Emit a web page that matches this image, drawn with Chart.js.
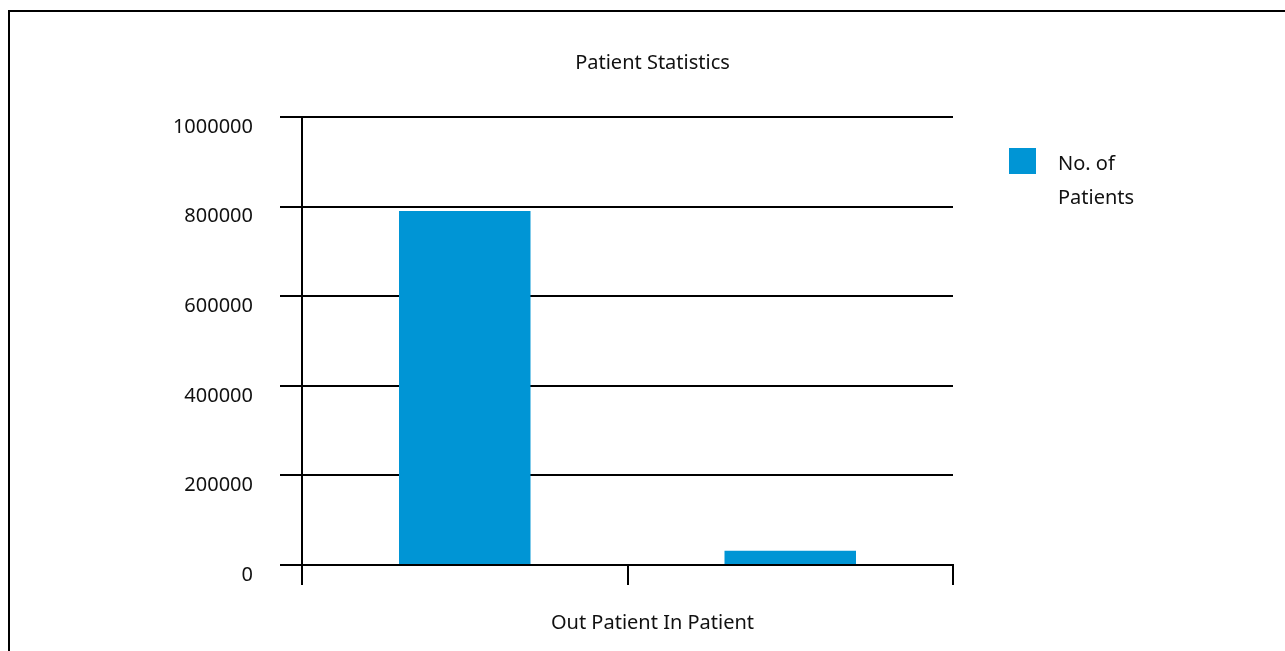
<!DOCTYPE html>
<html>
<head>
<meta charset="utf-8">
<script src="https://cdn.jsdelivr.net/npm/chart.js"></script>
<style>
  html, body { margin: 0; padding: 0; background: #fff; }
  #wrap { width: 1285px; height: 651px; position: relative; }
</style>
</head>
<body>
<div id="wrap"><canvas id="patients"></canvas></div>
<script>
const categories = ["Out Patient", "In Patient"];
const patientCounts = [790000, 32000];
const legendLines = ["No. of", "Patients"];
const yTicks = [0, 200000, 400000, 600000, 800000, 1000000];
const chartTitle = "Patient Statistics";

const barColor = "#0095d5";
const font = { family: "'Noto Sans', sans-serif", size: 20 };

// outer frame (only top + left edge fall inside the picture)
const framePlugin = {
  id: "frame",
  beforeDraw: (chart) => {
    const ctx = chart.ctx;
    ctx.save();
    ctx.fillStyle = "#fff";
    ctx.fillRect(0, 0, chart.width, chart.height);
    ctx.strokeStyle = "#000";
    ctx.lineWidth = 2;
    ctx.strokeRect(9, 11, chart.width + 50, chart.height + 50);
    ctx.restore();
  },
};

// legend on the right, label wrapped on two lines
const sideLegend = {
  id: "sideLegend",
  afterDraw: (chart) => {
    const ctx = chart.ctx;
    const ds = chart.data.datasets[0];
    const x = chart.chartArea.right + 56;
    const y = chart.chartArea.top + 31;
    ctx.save();
    ctx.fillStyle = ds.backgroundColor;
    ctx.fillRect(x, y, 27, 26);
    ctx.fillStyle = "#111";
    ctx.font = font.size + "px " + font.family;
    ctx.textBaseline = "middle";
    ctx.textAlign = "left";
    legendLines.forEach((line, i) => {
      ctx.fillText(line, x + 49, y + 16 + i * 34);
    });
    ctx.restore();
  },
};

new Chart(document.getElementById("patients"), {
  type: "bar",
  plugins: [framePlugin, sideLegend],
  data: {
    labels: categories,
    datasets: [
      {
        label: legendLines.join(" "),
        data: patientCounts,
        backgroundColor: barColor,
        categoryPercentage: 1,
        barPercentage: 0.404,
      },
    ],
  },
  options: {
    responsive: true,
    maintainAspectRatio: false,
    animation: false,
    layout: { padding: { left: 20, right: 0, top: 0, bottom: 0 } },
    plugins: {
      legend: { display: false },
      tooltip: { enabled: false },
      title: {
        display: true,
        text: chartTitle,
        color: "#111",
        font: { ...font, weight: "normal" },
        padding: { top: 51, bottom: 42 },
      },
      // category names shown as one line under the axis
      subtitle: {
        display: true,
        position: "bottom",
        text: categories.join(" "),
        color: "#111",
        font: { ...font, weight: "normal" },
        padding: { top: 0, bottom: 16 },
      },
    },
    scales: {
      x: {
        grid: {
          offset: true,
          drawOnChartArea: false,
          color: "#000",
          lineWidth: 2,
          tickLength: 20,
        },
        border: { display: true, color: "#000", width: 2 },
        ticks: { display: false },
        afterFit: (scale) => { scale.height = 46; },
      },
      y: {
        min: yTicks[0],
        max: yTicks[yTicks.length - 1],
        afterBuildTicks: (scale) => {
          scale.ticks = yTicks.map((v) => ({ value: v }));
        },
        grid: { color: "#000", lineWidth: 2, tickLength: 22 },
        border: { display: true, color: "#000", width: 2 },
        ticks: {
          color: "#111",
          font: font,
          padding: 27,
          labelOffset: 10,
          callback: (v) => String(v),
        },
        afterFit: (scale) => { scale.width = 282; },
      },
      yR: {
        type: "linear",
        position: "right",
        display: true,
        grid: { display: false },
        border: { display: false },
        ticks: { display: false },
        afterFit: (scale) => { scale.width = 332; },
      },
    },
  },
});
</script>
</body>
</html>
